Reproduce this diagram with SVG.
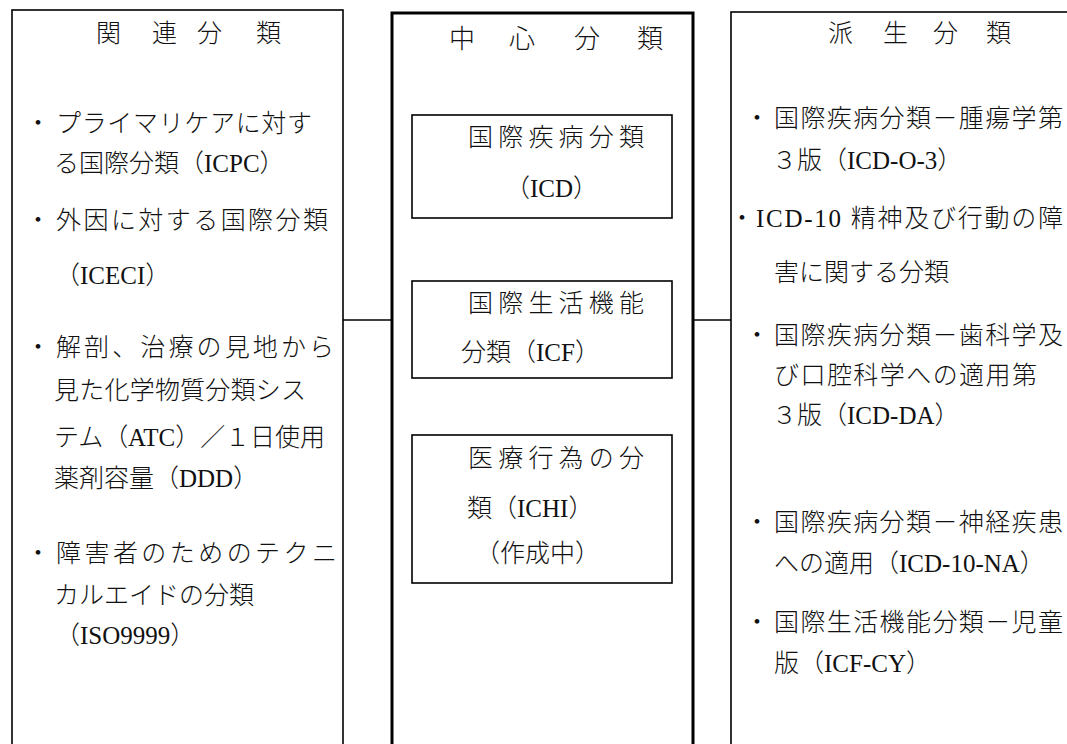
<svg xmlns="http://www.w3.org/2000/svg" width="1067" height="744" viewBox="0 0 1067 744">
<style>
.box{fill:none;stroke:#000;stroke-width:1.6}
.main{fill:none;stroke:#000;stroke-width:3}
.inner{fill:none;stroke:#000;stroke-width:1.6}
.con{stroke:#000;stroke-width:1.6;fill:none}
text{font-family:"Liberation Serif","Noto Sans CJK JP",serif;font-size:25px;font-weight:300;fill:#111}
.title{font-size:25px}
.ctitle{font-size:26px}
.bul{text-anchor:middle}
</style>
<rect width="1067" height="744" fill="#fff"/>
<g id="connectors">
<line class="con" x1="343" y1="320" x2="392" y2="320"/>
<line class="con" x1="693" y1="320" x2="731" y2="320"/>
</g>
<g id="related">
<rect class="box" x="12" y="10" width="331" height="800"/>
<text class="title" x="96 152 197 256" y="42">関連分類</text>
<text class="bul" x="38" y="132">・</text>
<text x="56" y="132" textLength="256" lengthAdjust="spacing">プライマリケアに対す</text>
<text x="54" y="172">る国際分類（ICPC）</text>
<text class="bul" x="38" y="229">・</text>
<text x="56" y="229" textLength="272" lengthAdjust="spacing">外因に対する国際分類</text>
<text x="55" y="284">（ICECI）</text>
<text class="bul" x="38" y="356">・</text>
<text x="56" y="356" textLength="278" lengthAdjust="spacing">解剖、治療の見地から</text>
<text x="54" y="399" textLength="252" lengthAdjust="spacing">見た化学物質分類シス</text>
<text x="54" y="446" textLength="271" lengthAdjust="spacing">テム（ATC）／１日使用</text>
<text x="54" y="487">薬剤容量（DDD）</text>
<text class="bul" x="38" y="562">・</text>
<text x="56" y="562" textLength="281" lengthAdjust="spacing">障害者のためのテクニ</text>
<text x="54" y="604">カルエイドの分類</text>
<text x="55" y="644">（ISO9999）</text>
</g>
<g id="central">
<rect class="main" x="392" y="13" width="301" height="800"/>
<text class="ctitle" x="449 509 574 637" y="48">中心分類</text>
</g>
<g id="icd">
<rect class="inner" x="412" y="115" width="260" height="103"/>
<text x="468" y="146" textLength="176" lengthAdjust="spacing">国際疾病分類</text>
<text x="505" y="197">（ICD）</text>
</g>
<g id="icf">
<rect class="inner" x="412" y="281" width="260" height="97"/>
<text x="468" y="312" textLength="176" lengthAdjust="spacing">国際生活機能</text>
<text x="461" y="361">分類（ICF）</text>
</g>
<g id="ichi">
<rect class="inner" x="412" y="435" width="260" height="148"/>
<text x="468" y="467" textLength="176" lengthAdjust="spacing">医療行為の分</text>
<text x="467" y="517">類（ICHI）</text>
<text x="475" y="562">（作成中）</text>
</g>
<g id="derived">
<rect class="box" x="731" y="12" width="400" height="800"/>
<text class="title" x="828 883 933 986" y="42">派生分類</text>
<text class="bul" x="757" y="127">・</text>
<text x="774" y="127" textLength="289" lengthAdjust="spacing">国際疾病分類－腫瘍学第</text>
<text x="772" y="169">３版（ICD-O-3）</text>
<text class="bul" x="742" y="227">・</text>
<text x="756" y="227" textLength="307" lengthAdjust="spacing">ICD-10 精神及び行動の障</text>
<text x="774" y="281">害に関する分類</text>
<text class="bul" x="757" y="344">・</text>
<text x="774" y="344" textLength="289" lengthAdjust="spacing">国際疾病分類－歯科学及</text>
<text x="774" y="384" textLength="263" lengthAdjust="spacing">び口腔科学への適用第</text>
<text x="772" y="424">３版（ICD-DA）</text>
<text class="bul" x="757" y="531">・</text>
<text x="774" y="531" textLength="289" lengthAdjust="spacing">国際疾病分類－神経疾患</text>
<text x="774" y="572">への適用（ICD-10-NA）</text>
<text class="bul" x="757" y="631">・</text>
<text x="774" y="631" textLength="289" lengthAdjust="spacing">国際生活機能分類－児童</text>
<text x="774" y="672">版（ICF-CY）</text>
</g>
</svg>
